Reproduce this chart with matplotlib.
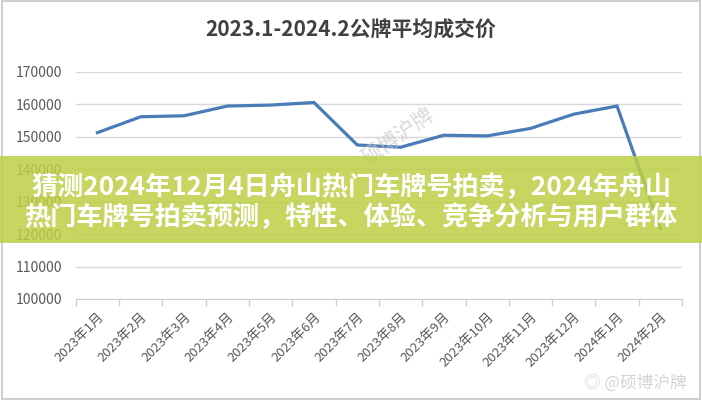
import matplotlib
matplotlib.use('Agg')
import matplotlib.pyplot as plt
from matplotlib.patches import Rectangle
import numpy as np

plt.rcParams['font.family'] = ['Noto Sans CJK SC', 'DejaVu Sans']

# data
months = ['2023年1月', '2023年2月', '2023年3月', '2023年4月', '2023年5月', '2023年6月',
          '2023年7月', '2023年8月', '2023年9月', '2023年10月', '2023年11月', '2023年12月',
          '2024年1月', '2024年2月']
avg_price = [151300, 156200, 156500, 159500, 159800, 160600,
             147500, 146800, 150500, 150300, 152600, 157000,
             159500, 121800]
y_ticks = [100000, 110000, 120000, 130000, 140000, 150000, 160000, 170000]

title = '2023.1-2024.2公牌平均成交价'
banner_lines = ['猜测2024年12月4日舟山热门车牌号拍卖，2024年舟山',
                '热门车牌号拍卖预测，特性、体验、竞争分析与用户群体']

fig = plt.figure(figsize=(7.02, 4.0), dpi=100)
ax = fig.add_axes([0.108, 0.2525, 0.8635, 0.5675])

x = np.arange(len(months))
ax.plot(x, avg_price, color='#4a7cb8', lw=2.3, solid_joinstyle='miter', zorder=3)

ax.set_xlim(-0.5, len(months) - 0.5)
ax.set_ylim(100000, 170000)
ax.set_yticks(y_ticks)
ax.set_yticklabels([str(v) for v in y_ticks], color='#595959', fontsize=10)
ax.grid(axis='y', color='#d9d9d9', lw=1)
ax.set_axisbelow(True)

ax.set_xticks(x)
ax.set_xticklabels(months, rotation=45, ha='right', rotation_mode='anchor',
                   color='#595959', fontsize=9.5)
ax.set_xticks(np.arange(-0.5, len(months)), minor=True)
ax.tick_params(axis='x', which='major', length=0, pad=8)
ax.tick_params(axis='x', which='minor', length=5, color='#d0d0d0', width=1)
ax.tick_params(axis='y', length=0, pad=10)

for s in ['top', 'right', 'left']:
    ax.spines[s].set_visible(False)
ax.spines['bottom'].set_color('#d0d0d0')

fig.text(0.5, 0.925, title, ha='center', va='center', fontsize=15,
         fontweight='bold', color='#404040')

# watermarks
fig.text(0.567, 0.66, '硕博沪牌', rotation=35, ha='center', va='center',
         fontsize=15, color='#c8c8c8', alpha=0.7)
fig.text(0.905, 0.042, '◎ @硕博沪牌', ha='center', va='center', fontsize=12,
         color='#d4d4d4')

# banner overlay
fig.patches.append(Rectangle((0, 0.3925), 1, 0.2175, transform=fig.transFigure,
                             facecolor='#bccf45', alpha=0.85, edgecolor='none', zorder=5))
fig.text(0.5, 0.532, banner_lines[0], ha='center', va='center', fontsize=18.8,
         fontweight='bold', color='white', zorder=6)
fig.text(0.5, 0.457, banner_lines[1], ha='center', va='center', fontsize=18.8,
         fontweight='bold', color='white', zorder=6)

# outer frame
fig.patches.append(Rectangle((0.003, 0.003), 0.994, 0.994, transform=fig.transFigure,
                             fill=False, edgecolor='#d0d0d0', lw=1.5))

fig.savefig('out.png', dpi=100)
